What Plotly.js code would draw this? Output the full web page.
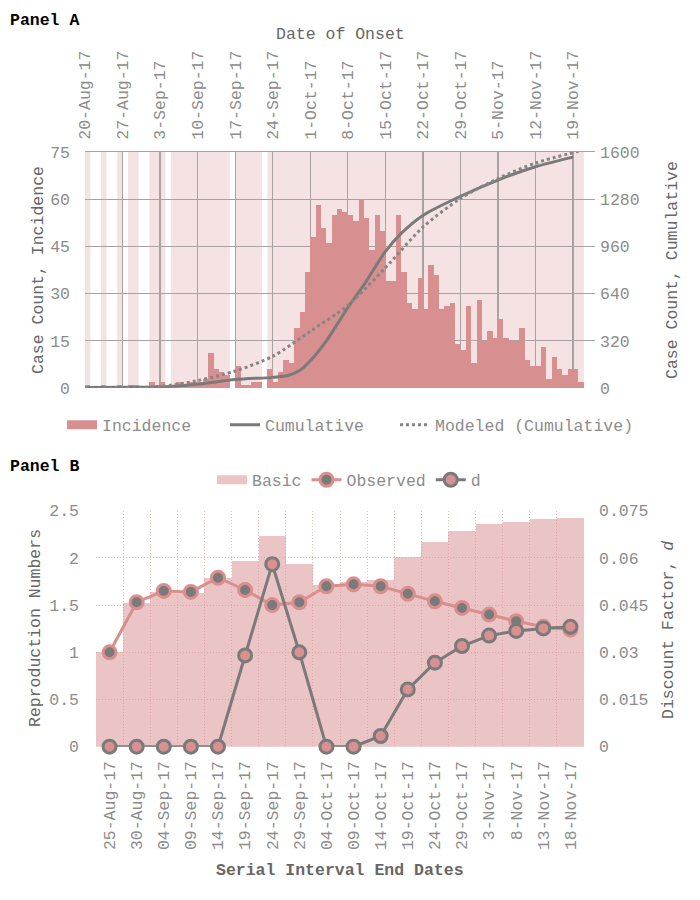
<!DOCTYPE html>
<html>
<head>
<meta charset="utf-8">
<script src="https://cdn.plot.ly/plotly-3.0.1.min.js"></script>
<style>
  body { margin: 0; background: #ffffff; }
  #chart { width: 700px; height: 900px; }
</style>
</head>
<body>
<div id="chart"></div>
<script>
// Panel A data: daily incidence from 20-Aug-17 (null = no report that day)
const onsetStart = "2017-08-20";
const incidence = [
  1, null, null, 1, null, null, 1, null, 1, 1,
  null, null, 2, 1, 2, null, 1, 2, 1, 2,
  2, 2, 3, 11, 6, 5, 4, null, 7, 1,
  1, 2, 2, null, 6, 2, 5, 9, 8, 19,
  24, 37, 48, 58, 51, 46, 55, 57, 56, 55,
  53, 60, 54, 44, 55, 50, 34, 34, 55, 37,
  27, 25, 35, 25, 39, 36, 25, 26, 27, 14,
  12, 26, 8, 28, 15, 18, 16, 22, 16, 15,
  15, 19, 9, 7, 7, 13, 3, 10, 6, 4,
  6, 6, 2,
];

const cumDates = [
  "2017-08-20", "2017-08-27", "2017-09-03", "2017-09-10", "2017-09-17",
  "2017-09-24", "2017-09-27", "2017-09-29", "2017-10-01", "2017-10-04",
  "2017-10-08", "2017-10-11", "2017-10-15", "2017-10-18", "2017-10-22",
  "2017-10-29", "2017-11-05", "2017-11-12", "2017-11-19",
];
const cumValues = [
  3, 5, 7, 25, 58, 72, 86, 118, 185, 320, 545, 700, 925, 1050, 1170,
  1300, 1410, 1500, 1565,
];

const modDates = [
  "2017-08-20", "2017-08-27", "2017-09-03", "2017-09-10", "2017-09-17",
  "2017-09-24", "2017-10-01", "2017-10-08", "2017-10-15", "2017-10-22",
  "2017-10-29", "2017-11-05", "2017-11-12", "2017-11-20",
];
const modValues = [
  0, 3, 10, 50, 115, 215, 385, 560, 815, 1090, 1285, 1420, 1525, 1605,
];

// Panel B data
const siDates = [
  "25-Aug-17", "30-Aug-17", "04-Sep-17", "09-Sep-17", "14-Sep-17",
  "19-Sep-17", "24-Sep-17", "29-Sep-17", "04-Oct-17", "09-Oct-17",
  "14-Oct-17", "19-Oct-17", "24-Oct-17", "29-Oct-17", "3-Nov-17",
  "8-Nov-17", "13-Nov-17", "18-Nov-17",
];
const basicR = [
  1.0, 1.52, 1.64, 1.63, 1.79, 1.97, 2.23, 1.94, 1.71, 1.75,
  1.77, 2.01, 2.17, 2.28, 2.36, 2.38, 2.41, 2.42,
];
const observedR = [
  1.0, 1.53, 1.65, 1.64, 1.79, 1.66, 1.5, 1.53, 1.7, 1.72,
  1.7, 1.62, 1.54, 1.47, 1.4, 1.33, 1.27, 1.24,
];
const discountD = [
  0, 0, 0, 0, 0, 0.029, 0.058, 0.03, 0, 0,
  0.0034, 0.0182, 0.0267, 0.032, 0.0353, 0.0368, 0.0376, 0.0381,
];

const DAY = 86400000;
const FONT = '"Liberation Mono", "Courier New", monospace';
const tickFont = { family: FONT, size: 16.5, color: "#8c8c8c" };
const titleFont = { family: FONT, size: 16.5, color: "#666666" };
const legendFont = { family: FONT, size: 16.5, color: "#8c8c8c" };
const salmon = "#d88f8f";
const basicPink = "rgba(216,140,140,0.5)";
const grayLine = "#7a7a7a";
const gridA = "#aaa1a1";
const gridB = "#ebbdbd";

// build the day list from the onset start
const t0 = Date.parse(onsetStart + "T00:00:00Z");
function dayString(i) {
  return new Date(t0 + i * DAY).toISOString().slice(0, 10);
}
const dayDates = incidence.map((v, i) => dayString(i));

// light background over runs of reporting days (drawn under the grid)
const bgShapes = [];
let runStart = null;
incidence.forEach((v, i) => {
  if (v !== null && runStart === null) runStart = i;
  const last = i === incidence.length - 1;
  if (runStart !== null && (last || incidence[i + 1] === null)) {
    bgShapes.push({
      type: "rect",
      xref: "x",
      yref: "y domain",
      x0: dayString(runStart),
      x1: dayString(i + 1),
      y0: 0,
      y1: 1,
      fillcolor: "#f5e3e3",
      line: { width: 0 },
      layer: "below",
    });
    runStart = null;
  }
});

const traces = [
  {
    type: "bar",
    name: "Incidence",
    x: dayDates,
    y: incidence,
    offset: 0,
    width: DAY,
    marker: { color: salmon, line: { width: 0 } },
    xaxis: "x",
    yaxis: "y",
    showlegend: false,
    hoverinfo: "x+y",
  },
  // legend swatch for the bars (wide block like the original)
  {
    type: "scatter",
    mode: "lines",
    name: "Incidence",
    x: [null],
    y: [null],
    line: { color: salmon, width: 9 },
    xaxis: "x",
    yaxis: "y",
    legend: "legend",
  },
  {
    type: "scatter",
    mode: "lines",
    name: "Cumulative",
    x: cumDates,
    y: cumValues,
    line: { color: grayLine, width: 3, shape: "spline", smoothing: 0.8 },
    xaxis: "x",
    yaxis: "y2",
    legend: "legend3",
  },
  {
    type: "scatter",
    mode: "lines",
    name: "Modeled (Cumulative)",
    x: modDates,
    y: modValues,
    line: { color: "#858585", width: 3, dash: "dot", shape: "spline", smoothing: 0.8 },
    xaxis: "x",
    yaxis: "y2",
    legend: "legend4",
  },
  {
    type: "bar",
    name: "Basic",
    x: siDates,
    y: basicR,
    width: 1,
    marker: { color: basicPink, line: { width: 0 } },
    xaxis: "x2",
    yaxis: "y3",
    showlegend: false,
  },
  {
    type: "scatter",
    mode: "lines",
    name: "Basic",
    x: [null],
    y: [null],
    line: { color: basicPink, width: 9 },
    xaxis: "x2",
    yaxis: "y3",
    legend: "legend2",
  },
  {
    type: "scatter",
    mode: "lines+markers",
    name: "Observed",
    x: siDates,
    y: observedR,
    line: { color: "#db8e8e", width: 3 },
    marker: { color: grayLine, size: 13, line: { color: "#db8e8e", width: 3 } },
    cliponaxis: false,
    xaxis: "x2",
    yaxis: "y3",
    legend: "legend2",
  },
  {
    type: "scatter",
    mode: "lines+markers",
    name: "d",
    x: siDates,
    y: discountD,
    line: { color: grayLine, width: 3 },
    marker: { color: "#d99090", size: 13, line: { color: grayLine, width: 3 } },
    cliponaxis: false,
    xaxis: "x2",
    yaxis: "y4",
    legend: "legend2",
  },
];

// pixel -> paper helpers for the fixed 700x900 page
const px = (v) => v / 700;
const py = (v) => 1 - v / 900;

function legendAt(xPix, yPix) {
  return {
    orientation: "h",
    x: px(xPix),
    xanchor: "left",
    y: py(yPix),
    yanchor: "middle",
    bgcolor: "rgba(0,0,0,0)",
    font: legendFont,
  };
}

const layout = {
  width: 700,
  height: 900,
  margin: { l: 0, r: 0, t: 0, b: 0 },
  paper_bgcolor: "#ffffff",
  plot_bgcolor: "rgba(0,0,0,0)",
  font: { family: FONT, color: "#8c8c8c" },
  barmode: "overlay",
  bargap: 0,
  shapes: bgShapes,
  xaxis: {
    domain: [px(85), px(595)],
    anchor: "y",
    side: "top",
    type: "date",
    range: [onsetStart, "2017-11-23 02:00"],
    tick0: onsetStart,
    dtick: 7 * DAY,
    tickformat: "%-d-%b-%y",
    tickangle: -90,
    tickfont: tickFont,
    ticks: "",
    ticklabelstandoff: 8,
    showgrid: true,
    gridcolor: gridA,
    gridwidth: 1.2,
    showline: true,
    linecolor: gridA,
    zeroline: false,
  },
  yaxis: {
    domain: [py(388), py(152)],
    anchor: "x",
    range: [0, 75],
    dtick: 15,
    tickfont: tickFont,
    ticks: "",
    ticklabelstandoff: 14,
    gridcolor: gridA,
    gridwidth: 1.2,
    zeroline: false,
  },
  yaxis2: {
    overlaying: "y",
    anchor: "x",
    side: "right",
    range: [0, 1600],
    dtick: 320,
    tickfont: tickFont,
    ticks: "",
    ticklabelstandoff: 4,
    showgrid: false,
    zeroline: false,
  },
  xaxis2: {
    domain: [px(96), px(584)],
    anchor: "y3",
    type: "category",
    categoryorder: "array",
    categoryarray: siDates,
    range: [-0.5, 17.5],
    tickangle: -90,
    tickson: "boundaries",
    tickfont: tickFont,
    ticks: "",
    ticklabelstandoff: 10,
    gridcolor: gridB,
    griddash: "1px,2px",
    gridwidth: 1,
    zeroline: false,
  },
  yaxis3: {
    domain: [py(746.7), py(510.7)],
    anchor: "x2",
    range: [0, 2.5],
    dtick: 0.5,
    tickfont: tickFont,
    ticks: "",
    ticklabelstandoff: 16,
    gridcolor: gridB,
    griddash: "1px,2px",
    gridwidth: 1,
    zeroline: false,
  },
  yaxis4: {
    overlaying: "y3",
    anchor: "x2",
    side: "right",
    range: [0, 0.075],
    dtick: 0.015,
    tickfont: tickFont,
    ticks: "",
    ticklabelstandoff: 14,
    showgrid: false,
    zeroline: false,
  },
  // one legend box per entry so the spacing follows the original
  legend: legendAt(62, 425),
  legend3: legendAt(225, 425),
  legend4: legendAt(395, 425),
  legend2: Object.assign(legendAt(350, 480), { x: px(349), xanchor: "center", traceorder: "normal" }),
  annotations: [
    {
      text: "<b>Panel A</b>", xref: "paper", yref: "paper",
      x: px(8), y: py(20), xanchor: "left", yanchor: "middle", showarrow: false,
      font: { family: FONT, size: 16.5, color: "#000000" },
    },
    {
      text: "<b>Panel B</b>", xref: "paper", yref: "paper",
      x: px(8), y: py(467), xanchor: "left", yanchor: "middle", showarrow: false,
      font: { family: FONT, size: 16.5, color: "#000000" },
    },
    {
      text: "Date of Onset", xref: "paper", yref: "paper",
      x: px(340), y: py(34), xanchor: "center", yanchor: "middle", showarrow: false,
      font: titleFont,
    },
    {
      text: "Case Count, Incidence", xref: "paper", yref: "paper", textangle: -90,
      x: px(38), y: py(270), xanchor: "center", yanchor: "middle", showarrow: false,
      font: titleFont,
    },
    {
      text: "Case Count, Cumulative", xref: "paper", yref: "paper", textangle: -90,
      x: px(672), y: py(270), xanchor: "center", yanchor: "middle", showarrow: false,
      font: titleFont,
    },
    {
      text: "Reproduction Numbers", xref: "paper", yref: "paper", textangle: -90,
      x: px(35), y: py(628), xanchor: "center", yanchor: "middle", showarrow: false,
      font: titleFont,
    },
    {
      text: "Discount Factor, <i>d</i>", xref: "paper", yref: "paper", textangle: -90,
      x: px(668), y: py(630), xanchor: "center", yanchor: "middle", showarrow: false,
      font: titleFont,
    },
    {
      text: "<b>Serial Interval End Dates</b>", xref: "paper", yref: "paper",
      x: px(340), y: py(870), xanchor: "center", yanchor: "middle", showarrow: false,
      font: titleFont,
    },
  ],
};

Plotly.newPlot("chart", traces, layout, { displayModeBar: false, staticPlot: true });
</script>
</body>
</html>
